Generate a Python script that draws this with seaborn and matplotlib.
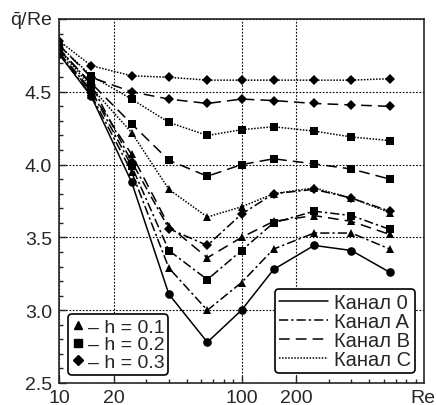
import matplotlib
matplotlib.use("Agg")
import matplotlib.pyplot as plt
import matplotlib.ticker as mticker
from matplotlib.lines import Line2D
import seaborn as sns
import pandas as pd

re_vals = [10, 15, 25, 40, 65, 100, 150, 250, 400, 650]

kanal_0 = [4.76, 4.47, 3.88, 3.11, 2.78, 3.00, 3.28, 3.445, 3.41, 3.26]
kanal_a_01 = [4.76, 4.48, 3.95, 3.29, 3.00, 3.19, 3.42, 3.53, 3.53, 3.42]
kanal_a_02 = [4.77, 4.51, 3.99, 3.41, 3.21, 3.41, 3.60, 3.68, 3.65, 3.555]
kanal_a_03 = [4.80, 4.55, 4.02, 3.56, 3.445, 3.66, 3.80, 3.83, 3.77, 3.68]
kanal_b_01 = [4.77, 4.50, 4.07, 3.58, 3.36, 3.50, 3.61, 3.65, 3.61, 3.52]
kanal_b_02 = [4.79, 4.56, 4.28, 4.03, 3.92, 4.00, 4.04, 4.005, 3.97, 3.90]
kanal_b_03 = [4.82, 4.60, 4.50, 4.45, 4.42, 4.45, 4.44, 4.42, 4.41, 4.40]
kanal_c_01 = [4.79, 4.53, 4.22, 3.83, 3.64, 3.71, 3.80, 3.84, 3.77, 3.67]
kanal_c_02 = [4.82, 4.61, 4.45, 4.29, 4.20, 4.24, 4.26, 4.23, 4.19, 4.165]
kanal_c_03 = [4.85, 4.68, 4.61, 4.60, 4.58, 4.58, 4.58, 4.58, 4.58, 4.59]

channel_labels = ["Канал 0", "Канал A", "Канал B", "Канал C"]
h_labels = ["– h = 0.1", "– h = 0.2", "– h = 0.3"]

series = {
    "0": kanal_0,
    "A1": kanal_a_01, "A2": kanal_a_02, "A3": kanal_a_03,
    "B1": kanal_b_01, "B2": kanal_b_02, "B3": kanal_b_03,
    "C1": kanal_c_01, "C2": kanal_c_02, "C3": kanal_c_03,
}

rows = []
for name, vals in series.items():
    for r, q in zip(re_vals, vals):
        rows.append({"Re": r, "q": q, "s": name})
df = pd.DataFrame(rows)

sns.set_style("ticks")
plt.rcParams["font.family"] = ["Liberation Sans", "DejaVu Sans"]
plt.rcParams["mathtext.fontset"] = "custom"
plt.rcParams["mathtext.rm"] = "Liberation Sans"
plt.rcParams["mathtext.it"] = "Liberation Sans"

ch_dash = {"0": "", "A": (6, 2, 1.5, 2), "B": (7, 4), "C": (1, 1)}
h_mark = {"1": "^", "2": "s", "3": "D"}
dashes = {k: ch_dash[k[0]] for k in series}
markers = {k: ("o" if k == "0" else h_mark[k[1]]) for k in series}
msize = {"o": 6.2, "^": 6.2, "s": 5.6, "D": 5.0}

fig = plt.figure(figsize=(4.36, 4.06), dpi=100)
ax = fig.add_axes([0.1353, 0.0542, 0.8372, 0.8965])

sns.lineplot(data=df, x="Re", y="q", style="s", dashes=dashes, markers=markers,
             color="black", linewidth=1.1, markersize=6, markeredgewidth=0,
             legend=False, ax=ax)
for ln in ax.lines:
    ln.set_markersize(msize.get(ln.get_marker(), 6))

ax.set_xscale("log")
ax.set_xlim(10, 1000)
ax.set_ylim(2.5, 5.0)
ax.xaxis.set_major_locator(mticker.FixedLocator([10, 20, 100, 200]))
ax.xaxis.set_major_formatter(mticker.FixedFormatter(["10", "20", "100", "200"]))
ax.xaxis.set_minor_locator(mticker.FixedLocator([30, 40, 50, 60, 70, 80, 90, 300, 400, 500, 600, 700, 800, 900]))
ax.xaxis.set_minor_formatter(mticker.NullFormatter())
ax.yaxis.set_major_locator(mticker.MultipleLocator(0.5))
ax.yaxis.set_minor_locator(mticker.MultipleLocator(0.1))
ax.yaxis.set_major_formatter(mticker.FuncFormatter(lambda v, p: "" if v > 4.9 else f"{v:.1f}"))
ax.tick_params(which="both", direction="in", top=False, right=False, labelsize=14, width=1)
ax.tick_params(axis="x", which="major", length=5, pad=4)
ax.tick_params(axis="y", which="major", length=5, pad=5)
ax.tick_params(which="minor", length=3)
ax.grid(True, which="major", color="black", linestyle=(0, (1.5, 1.5)), linewidth=0.8)
for sp in ax.spines.values():
    sp.set_linewidth(1.2)
ax.set_xlabel("")
ax.set_ylabel("")

fig.text(0.022, 0.947, r"$\bar{\mathrm{q}}$/Re", fontsize=14, ha="left", va="center")
fig.text(0.998, 0.018, "Re", fontsize=14, ha="right", va="center")

h1 = [Line2D([], [], color="black", marker=m, linestyle="none", markersize=msize[m])
      for m in ["^", "s", "D"]]
leg1 = ax.legend(h1, h_labels, loc="lower left", bbox_to_anchor=(0.025, 0.022), fontsize=14,
                 handlelength=0.6, handletextpad=0.2, labelspacing=0.0, borderpad=0.2,
                 borderaxespad=0, frameon=True, fancybox=True, edgecolor="black", framealpha=1)
leg1.get_frame().set_linewidth(1.2)
ax.add_artist(leg1)

h2 = [Line2D([], [], color="black", linewidth=1.1, linestyle=(0, d) if d else "-")
      for d in [ch_dash["0"], ch_dash["A"], ch_dash["B"], ch_dash["C"]]]
leg2 = ax.legend(h2, channel_labels, loc="lower right", bbox_to_anchor=(0.975, 0.027), fontsize=14.5,
                 handlelength=2.4, handletextpad=0.3, labelspacing=0.0, borderpad=0.2,
                 borderaxespad=0, frameon=True, fancybox=True, edgecolor="black", framealpha=1)
leg2.get_frame().set_linewidth(1.2)

fig.savefig("out.png", dpi=100)
